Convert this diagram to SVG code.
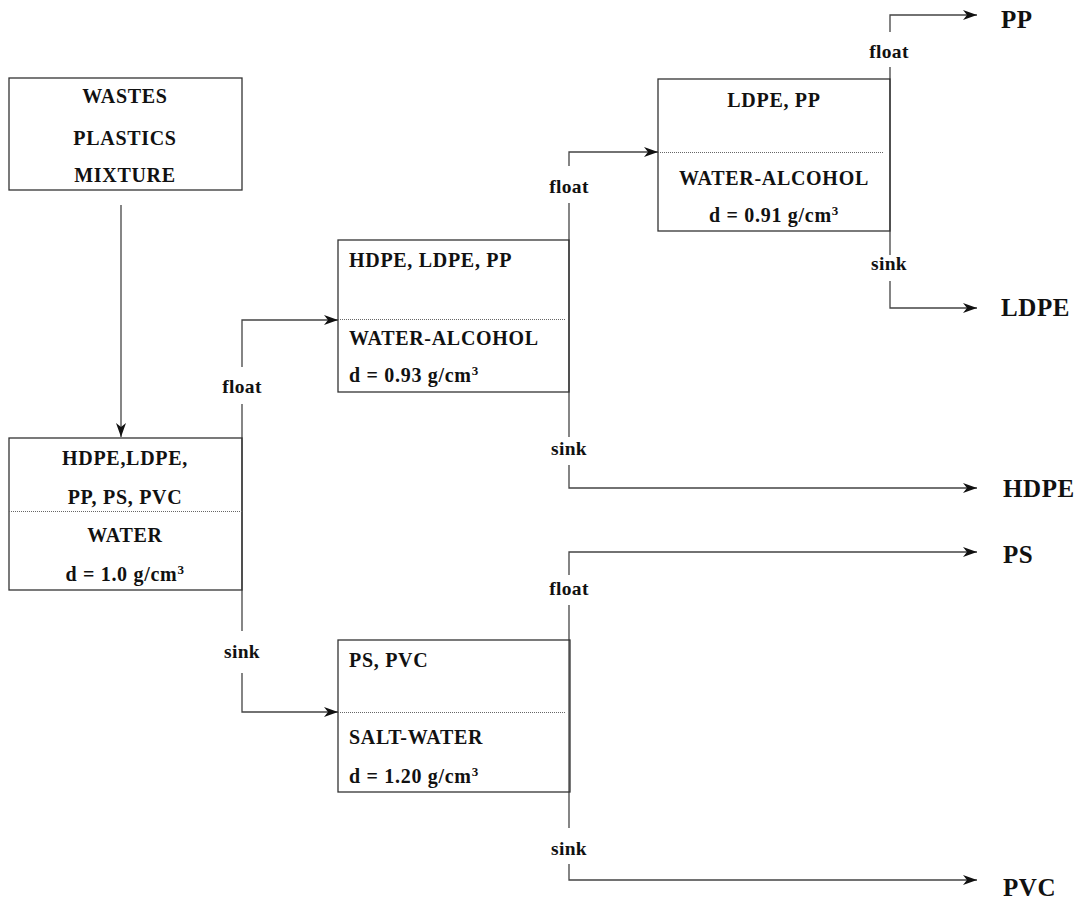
<svg xmlns="http://www.w3.org/2000/svg" width="1078" height="901" viewBox="0 0 1078 901">
<style>
.box{fill:none;stroke:#333;stroke-width:1.3}
.sep{stroke:#666;stroke-width:1;stroke-dasharray:1 1}
.t{font-family:"Liberation Serif","Times New Roman",serif;font-weight:bold;font-size:20px;letter-spacing:0.7px;fill:#111}
.c{text-anchor:middle}
.lbl{font-size:19.5px;letter-spacing:0.3px}
.out{font-size:25px;letter-spacing:0.6px}
.con{fill:none;stroke:#444;stroke-width:1.3}
</style>
<defs>
<marker id="arr" markerUnits="userSpaceOnUse" markerWidth="15" markerHeight="11" refX="14" refY="5" orient="auto">
<path d="M0,0 L14,5 L0,10 L4,5 Z" fill="#111"/>
</marker>
</defs>
<rect width="1078" height="901" fill="#fff"/>
<g id="connectors">
<path class="con" d="M121,205 V437" marker-end="url(#arr)"/>
<path class="con" d="M242,367 V320 H338" marker-end="url(#arr)"/>
<path class="con" d="M242,404 V631"/>
<path class="con" d="M242,673 V712 H338" marker-end="url(#arr)"/>
<path class="con" d="M569,166 V152 H658" marker-end="url(#arr)"/>
<path class="con" d="M569,203 V437"/>
<path class="con" d="M569,465 V488 H977" marker-end="url(#arr)"/>
<path class="con" d="M890,32 V15 H977" marker-end="url(#arr)"/>
<path class="con" d="M890,67 V255"/>
<path class="con" d="M890,281 V308 H977" marker-end="url(#arr)"/>
<path class="con" d="M569,575 V552 H977" marker-end="url(#arr)"/>
<path class="con" d="M569,605 V828"/>
<path class="con" d="M569,864 V880 H977" marker-end="url(#arr)"/>
<text class="t c lbl" x="242" y="393">float</text>
<text class="t c lbl" x="242" y="658">sink</text>
<text class="t c lbl" x="569" y="193">float</text>
<text class="t c lbl" x="569" y="455">sink</text>
<text class="t c lbl" x="889" y="58">float</text>
<text class="t c lbl" x="889" y="270">sink</text>
<text class="t c lbl" x="569" y="595">float</text>
<text class="t c lbl" x="569" y="855">sink</text>
</g>
<g id="wastes">
<rect class="box" x="9" y="78" width="233" height="112"/>
<text class="t c" x="125" y="103">WASTES</text>
<text class="t c" x="125" y="145">PLASTICS</text>
<text class="t c" x="125" y="182">MIXTURE</text>
</g>
<g id="water">
<rect class="box" x="9" y="438" width="233" height="152"/>
<line class="sep" x1="9" y1="511.5" x2="242" y2="511.5"/>
<text class="t c" x="125" y="465">HDPE,LDPE,</text>
<text class="t c" x="125" y="504">PP, PS, PVC</text>
<text class="t c" x="125" y="542">WATER</text>
<text class="t c" x="125" y="581">d = 1.0 g/cm<tspan font-size="13" dy="-7">3</tspan></text>
</g>
<g id="water-alcohol-093">
<rect class="box" x="338" y="240" width="231" height="152"/>
<line class="sep" x1="338" y1="319.5" x2="565" y2="319.5"/>
<text class="t" x="349" y="267">HDPE, LDPE, PP</text>
<text class="t" x="349" y="345">WATER-ALCOHOL</text>
<text class="t" x="349" y="382">d = 0.93 g/cm<tspan font-size="13" dy="-7">3</tspan></text>
</g>
<g id="water-alcohol-091">
<rect class="box" x="658" y="79" width="232" height="152"/>
<line class="sep" x1="658" y1="152.5" x2="884" y2="152.5"/>
<text class="t c" x="774" y="107">LDPE, PP</text>
<text class="t c" x="774" y="185">WATER-ALCOHOL</text>
<text class="t c" x="774" y="222">d = 0.91 g/cm<tspan font-size="13" dy="-7">3</tspan></text>
</g>
<g id="salt-water">
<rect class="box" x="338" y="640" width="232" height="152"/>
<line class="sep" x1="338" y1="712.5" x2="565" y2="712.5"/>
<text class="t" x="349" y="667">PS, PVC</text>
<text class="t" x="349" y="744">SALT-WATER</text>
<text class="t" x="349" y="783">d = 1.20 g/cm<tspan font-size="13" dy="-7">3</tspan></text>
</g>
<g id="out-pp"><text class="t out" x="1001" y="28">PP</text></g>
<g id="out-ldpe"><text class="t out" x="1001" y="316">LDPE</text></g>
<g id="out-hdpe"><text class="t out" x="1003" y="497">HDPE</text></g>
<g id="out-ps"><text class="t out" x="1003" y="563">PS</text></g>
<g id="out-pvc"><text class="t out" x="1003" y="896">PVC</text></g>
</svg>
